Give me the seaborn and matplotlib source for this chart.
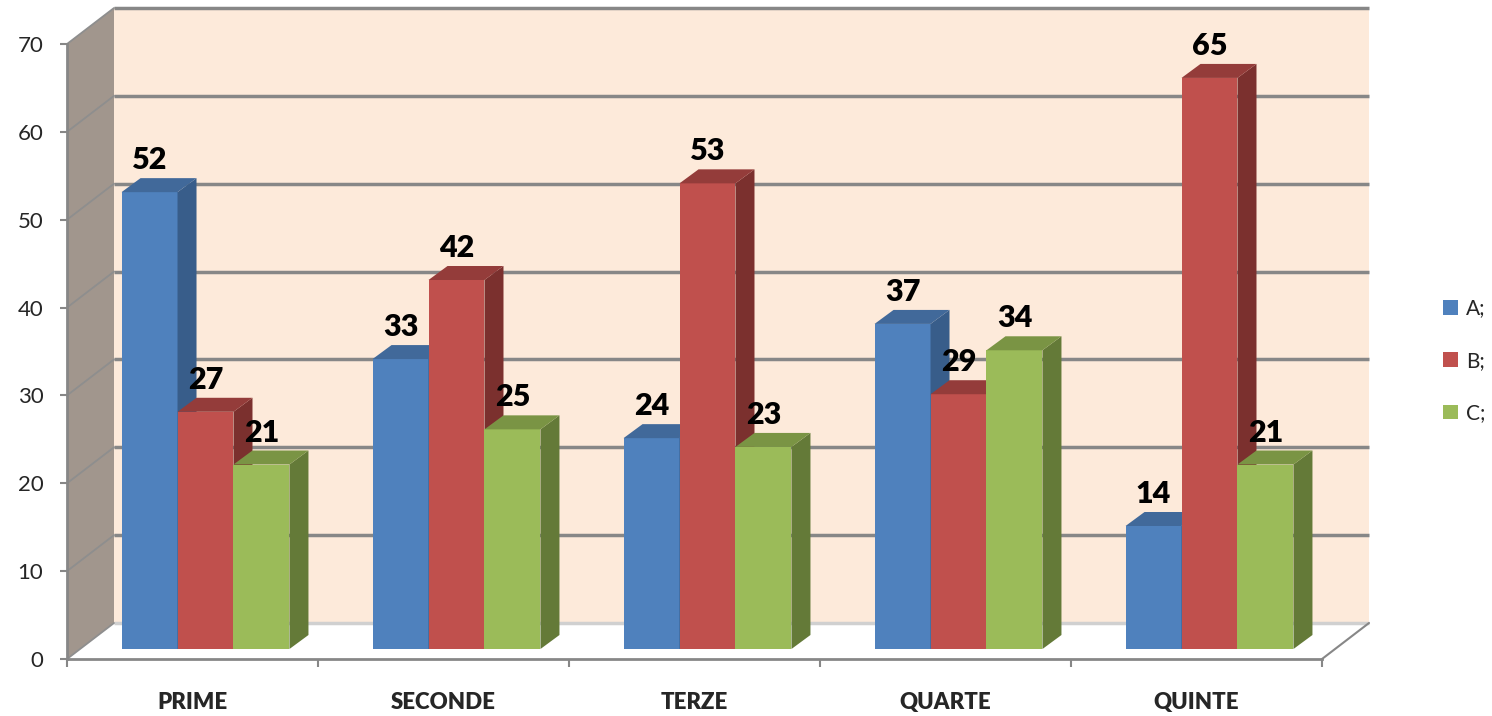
import matplotlib
matplotlib.use("Agg")
import matplotlib.pyplot as plt
import matplotlib.transforms as mtransforms
from matplotlib.patches import Polygon, Rectangle, Patch
import seaborn as sns
import pandas as pd

# data
categories = ["PRIME", "SECONDE", "TERZE", "QUARTE", "QUINTE"]
series_names = ["A;", "B;", "C;"]
values_a = [52, 33, 24, 37, 14]
values_b = [27, 42, 53, 29, 65]
values_c = [21, 25, 23, 34, 21]
y_ticks = [0, 10, 20, 30, 40, 50, 60, 70]

front_colors = ["#4F81BD", "#C0504D", "#9BBB59"]
side_colors = ["#385D8A", "#7B302E", "#647A38"]
top_colors = ["#41699A", "#943C3A", "#7A9444"]
grid_color = "#878787"

df = pd.DataFrame({
    "category": categories * 3,
    "series": [s for s in series_names for _ in categories],
    "value": values_a + values_b + values_c,
})

sns.set_theme(style="white")
plt.rcParams["font.family"] = ["Lato", "DejaVu Sans"]

fig = plt.figure(figsize=(14.92, 7.16), dpi=100)
pos = [67 / 1492, 57 / 716, 1255 / 1492, 615 / 716]
ax = fig.add_axes(pos)

sns.barplot(data=df, x="category", y="value", hue="series", palette=front_colors,
            width=0.669, saturation=1, errorbar=None, legend=False, linewidth=0, ax=ax)

x0, x1 = -0.5, len(categories) - 0.5
ymax = y_ticks[-1]
ax.set_xlim(x0, x1)
ax.set_ylim(0, ymax)

# pixel -> data units, for the fake 3d depth
ux = (x1 - x0) / (fig.get_figwidth() * fig.dpi * pos[2])
uy = ymax / (fig.get_figheight() * fig.dpi * pos[3])
wall_dx, wall_dy = 47 * ux, 36 * uy
bar_dx, bar_dy = 13 * ux, 10 * uy
dep_dx, dep_dy = 19 * ux, 14 * uy

# back wall + gridlines
ax.add_patch(Rectangle((x0 + wall_dx, wall_dy), x1 - x0, ymax, fc="#FDEADA", ec="none",
                       zorder=0.5, clip_on=False))
for t in y_ticks:
    c = grid_color if t > 0 else "#D0D0D0"
    ax.plot([x0 + wall_dx, x1 + wall_dx], [t + wall_dy, t + wall_dy], color=c, lw=2.5,
            zorder=0.8, clip_on=False, solid_capstyle="butt")

# left side wall
ax.add_patch(Polygon([(x0, 0), (x0, ymax), (x0 + wall_dx, ymax + wall_dy), (x0 + wall_dx, wall_dy)],
                     closed=True, fc="#A1968D", ec="none", zorder=0.6, clip_on=False))
for t in y_ticks:
    ax.plot([x0, x0 + wall_dx], [t, t + wall_dy], color="#8E8E8E", lw=1.3, zorder=0.9, clip_on=False)

# floor
ax.add_patch(Polygon([(x0, 0), (x1, 0), (x1 + wall_dx, wall_dy), (x0 + wall_dx, wall_dy)],
                     closed=True, fc="white", ec="none", zorder=0.7, clip_on=False))
ax.plot([x1, x1 + wall_dx], [0, wall_dy], color=grid_color, lw=1.5, zorder=0.9, clip_on=False)

# bars: shift front faces into the middle of the floor, add side and top faces
bar_tr = mtransforms.Affine2D().translate(bar_dx, bar_dy) + ax.transData
for i, container in enumerate(ax.containers):
    for bar in container:
        bx, w, h = bar.get_x(), bar.get_width(), bar.get_height()
        z = 3 + i * 0.1
        bar.set_transform(bar_tr)
        bar.set_zorder(z)
        bar.set_clip_on(False)
        bar.set_linewidth(0)
        side = Polygon([(bx + w, 0), (bx + w, h), (bx + w + dep_dx, h + dep_dy), (bx + w + dep_dx, dep_dy)],
                       closed=True, fc=side_colors[i], ec="none", zorder=z, transform=bar_tr, clip_on=False)
        top = Polygon([(bx, h), (bx + w, h), (bx + w + dep_dx, h + dep_dy), (bx + dep_dx, h + dep_dy)],
                      closed=True, fc=top_colors[i], ec="none", zorder=z, transform=bar_tr, clip_on=False)
        ax.add_patch(side)
        ax.add_patch(top)
        ax.annotate(f"{h:.0f}", xy=(bx + w / 2, h), xycoords=bar_tr, xytext=(0, 23),
                    textcoords="offset points", ha="center", va="center",
                    fontsize=22, fontweight="heavy", color="black", zorder=10)

# axes styling
for s in ["top", "right"]:
    ax.spines[s].set_visible(False)
for s in ["left", "bottom"]:
    ax.spines[s].set_color(grid_color)
    ax.spines[s].set_linewidth(2)
    ax.spines[s].set_zorder(2)
ax.set_facecolor("none")

ax.set_yticks(y_ticks)
ax.tick_params(axis="y", left=True, length=5, width=1.5, color=grid_color, pad=12, labelsize=16)
ax.set_xticks(range(len(categories)))
ax.set_xticklabels(categories, fontweight="heavy", fontsize=16)
ax.set_xticks([k - 0.5 for k in range(len(categories) + 1)], minor=True)
ax.tick_params(axis="x", which="major", bottom=False, length=0, pad=24)
ax.tick_params(axis="x", which="minor", bottom=True, length=6, width=1.5, color=grid_color)
ax.set_xlabel("")
ax.set_ylabel("")

handles = [Patch(facecolor=c, edgecolor="none") for c in front_colors]
fig.legend(handles, series_names, loc="center left", bbox_to_anchor=(1443 / 1492, 0.496),
           frameon=False, fontsize=15, handlelength=0.7, handleheight=0.7,
           handletextpad=0.4, labelspacing=1.55, borderpad=0, borderaxespad=0)

fig.savefig("out.png", dpi=100)
